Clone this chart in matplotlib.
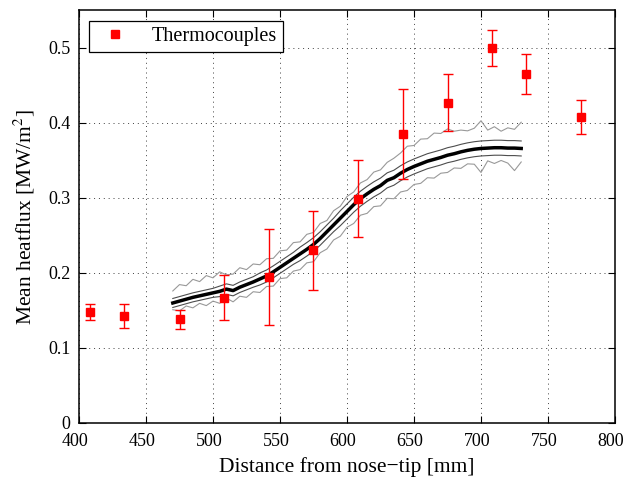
import numpy as np
import matplotlib
matplotlib.use("Agg")
import matplotlib.pyplot as plt
import matplotlib.transforms as mtransforms
from matplotlib.lines import Line2D

# thermocouple measurements
tc_x = [408.2, 433.8, 475.4, 508.4, 541.8, 574.9, 608.0, 641.6, 675.1, 708.4, 733.6, 774.9]
tc_y = [0.148, 0.143, 0.138, 0.167, 0.194, 0.230, 0.299, 0.385, 0.427, 0.500, 0.465, 0.408]
tc_err = [0.011, 0.016, 0.013, 0.030, 0.064, 0.053, 0.051, 0.060, 0.038, 0.024, 0.027, 0.023]

# heat flux profile
dist = list(range(470, 731, 5))
mean_q = [0.160, 0.1625, 0.165, 0.1675, 0.1695, 0.1715, 0.1735, 0.1755, 0.1785, 0.1765,
          0.181, 0.1845, 0.188, 0.192, 0.196, 0.2015, 0.2075, 0.2135, 0.2195, 0.2255,
          0.2315, 0.238, 0.246, 0.255, 0.264, 0.273, 0.282, 0.291, 0.299, 0.3055,
          0.3115, 0.3165, 0.3235, 0.327, 0.333, 0.338, 0.342, 0.3455, 0.349, 0.3515,
          0.354, 0.357, 0.359, 0.3615, 0.3635, 0.365, 0.366, 0.3665, 0.367, 0.367,
          0.3665, 0.3665, 0.366]
inner_hi = [0.166, 0.1685, 0.171, 0.1735, 0.1755, 0.1775, 0.1795, 0.1825, 0.1855, 0.1835,
            0.188, 0.1915, 0.195, 0.200, 0.204, 0.2095, 0.2155, 0.2215, 0.2275, 0.2345,
            0.2405, 0.247, 0.255, 0.264, 0.273, 0.283, 0.292, 0.301, 0.309, 0.3155,
            0.3215, 0.3265, 0.3335, 0.337, 0.343, 0.348, 0.352, 0.3555, 0.359, 0.3615,
            0.364, 0.367, 0.369, 0.3715, 0.3735, 0.375, 0.376, 0.3765, 0.377, 0.377,
            0.3765, 0.3765, 0.376]
inner_lo = [0.154, 0.1565, 0.159, 0.1615, 0.1635, 0.1655, 0.1675, 0.1685, 0.1715, 0.1695,
            0.174, 0.1775, 0.181, 0.184, 0.188, 0.1935, 0.1995, 0.2055, 0.2115, 0.2165,
            0.2225, 0.229, 0.237, 0.246, 0.255, 0.263, 0.272, 0.281, 0.289, 0.2955,
            0.3015, 0.3065, 0.3135, 0.317, 0.323, 0.328, 0.332, 0.3355, 0.339, 0.3415,
            0.344, 0.347, 0.349, 0.3515, 0.3535, 0.355, 0.356, 0.3565, 0.357, 0.357,
            0.3565, 0.3565, 0.356]
outer_hi = [0.176, 0.1845, 0.183, 0.1915, 0.1885, 0.1965, 0.1935, 0.2015, 0.1975, 0.1985,
            0.207, 0.2045, 0.212, 0.211, 0.219, 0.2195, 0.2295, 0.2305, 0.2405, 0.2415,
            0.2515, 0.254, 0.266, 0.270, 0.283, 0.289, 0.302, 0.308, 0.320, 0.3245,
            0.3345, 0.3375, 0.3475, 0.353, 0.360, 0.369, 0.370, 0.3785, 0.379, 0.3865,
            0.386, 0.392, 0.389, 0.3905, 0.3895, 0.393, 0.403, 0.3905, 0.395, 0.389,
            0.3935, 0.3915, 0.401]
outer_lo = [0.151, 0.1495, 0.156, 0.1535, 0.1595, 0.1565, 0.1625, 0.1595, 0.1665, 0.1615,
            0.169, 0.1675, 0.175, 0.174, 0.182, 0.1825, 0.1925, 0.1935, 0.2025, 0.2045,
            0.2135, 0.215, 0.227, 0.232, 0.244, 0.249, 0.261, 0.266, 0.277, 0.2795,
            0.2885, 0.2895, 0.2995, 0.299, 0.308, 0.310, 0.318, 0.3195, 0.327, 0.3265,
            0.333, 0.334, 0.340, 0.3395, 0.3455, 0.345, 0.334, 0.3495, 0.346, 0.350,
            0.3465, 0.3365, 0.348]

plt.rcParams['font.family'] = ['Liberation Serif', 'DejaVu Serif']
plt.rcParams['mathtext.fontset'] = 'stix'

fig = plt.figure(figsize=(6.25, 4.8), dpi=100)
ax = fig.add_axes([0.1264, 0.1188, 0.8576, 0.8594])

ax.plot(dist, outer_hi, color='0.6', lw=0.8)
ax.plot(dist, outer_lo, color='0.6', lw=0.8)
ax.plot(dist, inner_hi, color='0.3', lw=0.8)
ax.plot(dist, inner_lo, color='0.3', lw=0.8)
ax.plot(dist, mean_q, color='black', lw=2.5)

ax.errorbar(tc_x, tc_y, yerr=tc_err, fmt='s', color='red', ecolor='red',
            ms=6, elinewidth=1.0, capsize=3.5, capthick=1.0)

ax.set_xlim(400, 800)
ax.set_ylim(0, 0.55)
ax.set_xticks(np.arange(400, 801, 50))
ax.set_yticks([0, 0.1, 0.2, 0.3, 0.4, 0.5])
ax.set_yticklabels(['0', '0.1', '0.2', '0.3', '0.4', '0.5'])
ax.grid(True, color='0.25', linestyle=(0, (1, 4)), linewidth=0.7)
ax.tick_params(direction='in', top=True, right=True, length=5, width=0.8,
               labelsize=13)
ax.tick_params(axis='x', pad=7)
ax.tick_params(axis='y', pad=6)
for s in ax.spines.values():
    s.set_linewidth(1.1)

# nudge tick labels slightly left like the original
shift = mtransforms.ScaledTranslation(-4 / 100, 0, fig.dpi_scale_trans)
for lbl in ax.get_xticklabels():
    lbl.set_transform(lbl.get_transform() + shift)

ax.set_xlabel('Distance from nose\u2212tip [mm]', fontsize=15.5, labelpad=5)
ax.set_ylabel('Mean heatflux [MW/m$^2$]', fontsize=15.5, labelpad=8)

handle = Line2D([], [], marker='s', color='red', linestyle='none', ms=6)
leg = ax.legend([handle], ['Thermocouples'], loc='upper left', fontsize=14.5,
                fancybox=False, edgecolor='black', framealpha=1,
                borderaxespad=0.5, handletextpad=0.8, borderpad=0.3)
leg.get_frame().set_linewidth(0.9)

fig.savefig('out.png', dpi=100)
